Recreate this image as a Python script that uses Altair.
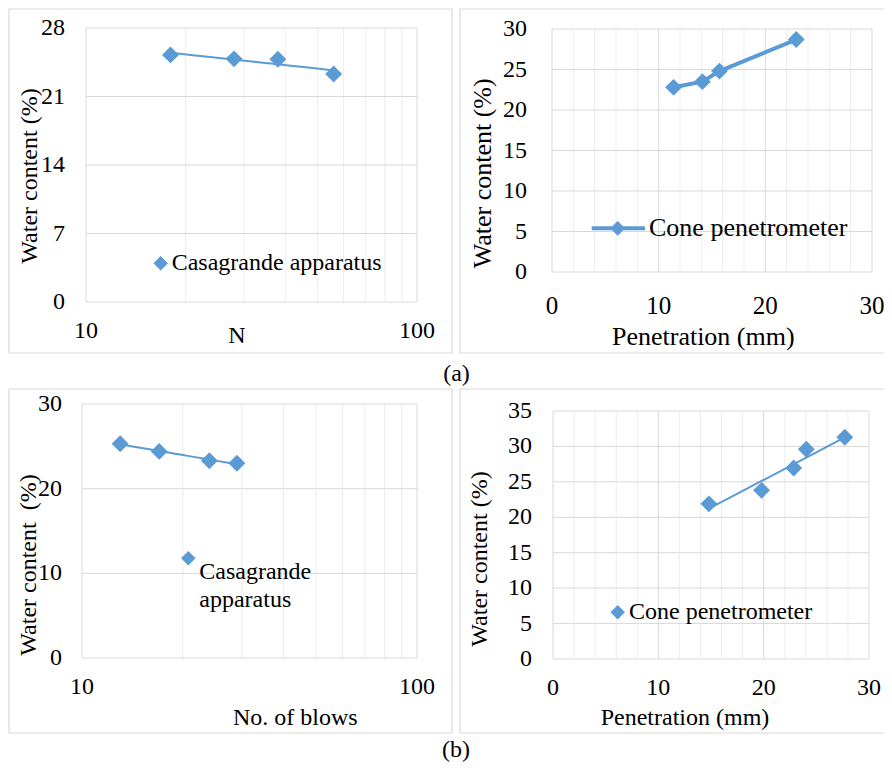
import altair as alt
import pandas as pd

# ---------------- data ----------------
# (a) Casagrande apparatus (log x)
a_blows = [18, 28, 38, 56]
a_wc_cas = [25.25, 24.85, 24.8, 23.3]
# (a) Cone penetrometer
a_pen = [11.4, 14.1, 15.7, 22.9]
a_wc_cone = [22.8, 23.5, 24.8, 28.7]
# (b) Casagrande apparatus (log x)
b_blows = [13, 17, 24, 29]
b_wc_cas = [25.3, 24.4, 23.3, 23.0]
# (b) Cone penetrometer
b_pen = [14.8, 19.8, 22.85, 24.05, 27.7]
b_wc_cone = [21.9, 23.8, 26.95, 29.6, 31.3]

# tick labels / grid lines
log_labels = [10, 100]
log_minor = [20, 30, 40, 50, 60, 70, 80, 90]
pen_labels = [0, 10, 20, 30]
pen_major = [10, 20]
pen_minor = [2, 4, 6, 8, 12, 14, 16, 18, 22, 24, 26, 28]
a_cas_yticks = [0, 7, 14, 21, 28]
a_cone_yticks = [0, 5, 10, 15, 20, 25, 30]
b_cas_yticks = [0, 10, 20, 30]
b_cone_yticks = [0, 5, 10, 15, 20, 25, 30, 35]

FONT = "Liberation Serif"
BLUE = "#5B9BD5"
GRID = "#d9d9d9"
MINOR = "#ededed"
TXT = "#000000"
W, H = 876, 755


def one():
    return alt.Chart(alt.Data(values=[{"k": 0}]))


def vals(lst):
    return alt.Data(values=[{"v": v} for v in lst])


def panel(df, xf, yf, xs, ys, xlim, ylim, vminor, vmajor, yticks, xticks,
          ylab_x, xlab_y, xlab_size, data_layers):
    layers = []
    ydat = lambda: alt.YDatum(ylim[0], type="quantitative", scale=ys, axis=None)
    xdat = lambda: alt.XDatum(xlim[0], type="quantitative", scale=xs, axis=None)
    if vminor:
        layers.append(alt.Chart(vals(vminor)).mark_rule(color=MINOR, strokeWidth=1).encode(
            x=alt.X("v:Q", scale=xs, axis=None), y=ydat(), y2=alt.Y2Datum(ylim[1])))
    if vmajor:
        layers.append(alt.Chart(vals(vmajor)).mark_rule(color=GRID, strokeWidth=1).encode(
            x=alt.X("v:Q", scale=xs, axis=None), y=ydat(), y2=alt.Y2Datum(ylim[1])))
    layers.append(alt.Chart(vals(yticks[1:-1])).mark_rule(color=GRID, strokeWidth=1).encode(
        y=alt.Y("v:Q", scale=ys, axis=None), x=xdat(), x2=alt.X2Datum(xlim[1])))
    layers.append(one().mark_rect(fill="white", fillOpacity=0, stroke=GRID, strokeWidth=1).encode(
        x=xdat(), x2=alt.X2Datum(xlim[1]), y=ydat(), y2=alt.Y2Datum(ylim[1])))
    # tick labels through the panel's scales
    layers.append(alt.Chart(vals(yticks)).mark_text(
        font=FONT, fontSize=24, color=TXT, align="right", baseline="middle").encode(
        y=alt.Y("v:Q", scale=ys, axis=None), x=alt.value(ylab_x), text=alt.Text("v:Q")))
    layers.append(alt.Chart(vals(xticks)).mark_text(
        font=FONT, fontSize=xlab_size, color=TXT, align="center", baseline="middle").encode(
        x=alt.X("v:Q", scale=xs, axis=None), y=alt.value(xlab_y), text=alt.Text("v:Q")))
    base = alt.Chart(df)
    X = lambda: alt.X(f"{xf}:Q", scale=xs, axis=None)
    Y = lambda: alt.Y(f"{yf}:Q", scale=ys, axis=None)
    for kind in data_layers:
        if kind == "logfit":
            layers.append(base.transform_regression(xf, yf, method="log").mark_line(
                color=BLUE, strokeWidth=2).encode(x=X(), y=Y()))
        elif kind == "linfit":
            layers.append(base.transform_regression(xf, yf, method="linear").mark_line(
                color=BLUE, strokeWidth=2).encode(x=X(), y=Y()))
        elif kind == "line":
            layers.append(base.mark_line(color=BLUE, strokeWidth=4).encode(x=X(), y=Y()))
        elif kind == "points":
            layers.append(base.mark_point(shape="diamond", filled=True, size=285, color=BLUE,
                                          opacity=1).encode(x=X(), y=Y()))
    return alt.layer(*layers)


# ---------- (a) left: Casagrande apparatus ----------
p_a1 = panel(
    pd.DataFrame({"n": a_blows, "w": a_wc_cas}), "n", "w",
    alt.Scale(type="log", domain=[10, 100], range=[78, 409], nice=False),
    alt.Scale(domain=[0, 28], range=[294, 20], nice=False, zero=False),
    (10, 100), (0, 28), log_minor, None, a_cas_yticks, log_labels,
    57, 323, 24, ["logfit", "points"])

# ---------- (a) right: Cone penetrometer ----------
p_a2 = panel(
    pd.DataFrame({"p": a_pen, "w": a_wc_cone}), "p", "w",
    alt.Scale(domain=[0, 30], range=[544, 864], nice=False, zero=False),
    alt.Scale(domain=[0, 30], range=[264, 21], nice=False, zero=False),
    (0, 30), (0, 30), pen_minor, pen_major, a_cone_yticks, pen_labels,
    519, 298, 25, ["line", "points"])

# ---------- (b) left: Casagrande apparatus ----------
p_b1 = panel(
    pd.DataFrame({"n": b_blows, "w": b_wc_cas}), "n", "w",
    alt.Scale(type="log", domain=[10, 100], range=[74, 409], nice=False),
    alt.Scale(domain=[0, 30], range=[650, 396], nice=False, zero=False),
    (10, 100), (0, 30), log_minor, None, b_cas_yticks, log_labels,
    54, 679, 24, ["logfit", "points"])

# ---------- (b) right: Cone penetrometer ----------
p_b2 = panel(
    pd.DataFrame({"p": b_pen, "w": b_wc_cone}), "p", "w",
    alt.Scale(domain=[0, 30], range=[545, 861], nice=False, zero=False),
    alt.Scale(domain=[0, 35], range=[651, 403], nice=False, zero=False),
    (0, 30), (0, 35), pen_minor, pen_major, b_cone_yticks, pen_labels,
    524, 680, 24, ["linfit", "points"])


# ---------- decorations: frames, axis titles, legends, captions ----------
def frame(x0, y0, x1, y1):
    return one().mark_rect(fill="white", fillOpacity=0, stroke=GRID, strokeWidth=1.2).encode(
        x=alt.value(x0), x2=alt.value(x1), y=alt.value(y0), y2=alt.value(y1))


def diamond(x, y, size=210):
    return one().mark_point(shape="diamond", filled=True, size=size, color=BLUE, opacity=1).encode(
        x=alt.value(x), y=alt.value(y))


def label(x, y, txt, size=24, align="left", lh=None, angle=0):
    kw = dict(font=FONT, fontSize=size, color=TXT, align=align, baseline="middle")
    if lh is not None:
        kw.update(lineBreak="\n", lineHeight=lh)
    if angle:
        kw.update(angle=angle)
    return one().mark_text(**kw).encode(x=alt.value(x), y=alt.value(y), text=alt.value(txt))


frames = [frame(1, 1, 444, 345), frame(452, 1, 884, 345),
          frame(1, 381, 444, 725), frame(452, 381, 884, 725)]

texts = [
    # axis titles
    label(22, 168, "Water content (%)", 24, "center", angle=270),
    label(229, 328, "N", 24, "center"),
    label(474.5, 165.3, "Water content (%)", 26, "center", angle=270),
    label(695.3, 328.7, "Penetration (mm)", 26, "center"),
    label(21, 557, "Water content\u00a0 (%)", 24, "center", angle=270),
    label(287.3, 709.5, "No. of blows", 24, "center"),
    label(472, 551, "Water content (%)", 24, "center", angle=270),
    label(677, 709.5, "Penetration (mm)", 24, "center"),
    # legends
    diamond(152.7, 255.3), label(163.7, 255.3, "Casagrande apparatus"),
    one().mark_rule(color=BLUE, strokeWidth=4).encode(
        x=alt.value(583.7), x2=alt.value(637), y=alt.value(220.3)),
    diamond(609.7, 220.3, 220), label(641, 220.3, "Cone penetrometer", 26),
    diamond(180.3, 550.3), label(191.3, 564, "Casagrande\napparatus", 24, "left", 27.7),
    diamond(609.7, 604.3), label(621, 604.3, "Cone penetrometer"),
    # captions
    label(448.5, 366, "(a)", 24, "center"),
    label(448, 742, "(b)", 24, "center"),
]

chart = alt.layer(*frames, p_a1, p_a2, p_b1, p_b2, *texts).resolve_scale(
    x="independent", y="independent"
).properties(
    width=W, height=H, padding=0,
    autosize=alt.AutoSizeParams(type="none"),
).configure_view(strokeWidth=0)

chart.save("out.html", embed_options={"renderer": "svg", "actions": False})
